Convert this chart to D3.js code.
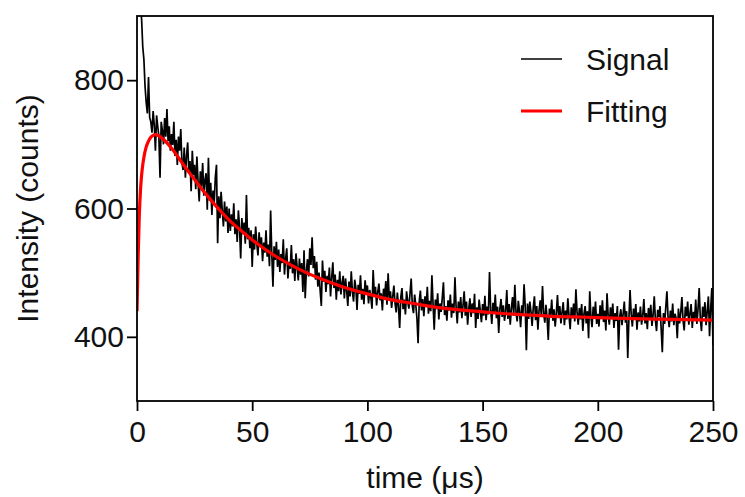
<!DOCTYPE html>
<html>
<head>
<meta charset="utf-8">
<script src="https://cdn.jsdelivr.net/npm/d3@7"></script>
<style>
  body { margin: 0; background: #fff; }
  svg { display: block; }
</style>
</head>
<body>
<div class="chart"></div>
<script>
// time step of the signal trace (µs), first sample at t = 0
const signalStep = 0.5;

const signalValues = [
  1010, 975, 940, 915, 895, 852, 832, 790, 765, 748, 805, 742, 735, 718, 752, 730, 690, 745, 728, 712,
  648, 735, 722, 700, 741, 712, 755, 705, 728, 690, 716, 699, 735, 682, 707, 668, 712, 690, 724, 671,
  660, 695, 648, 682, 703, 655, 674, 627, 690, 652, 668, 630, 681, 642, 611, 658, 634, 671, 620, 645,
  655, 598, 679, 612, 640, 590, 628, 607, 649, 668, 546, 619, 585, 626, 598, 572, 611, 580, 603, 562,
  600, 565, 591, 572, 608, 560, 583, 548, 597, 571, 522, 585, 560, 578, 545, 621, 552, 570, 538, 566,
  509, 560, 536, 572, 545, 527, 563, 540, 555, 518, 547, 531, 566, 525, 544, 510, 597, 530, 478, 541,
  520, 548, 509, 536, 501, 529, 515, 552, 497, 522, 538, 491, 517, 506, 543, 499, 521, 487, 530, 509,
  488, 522, 497, 515, 470, 535, 460, 503, 521, 494, 538, 512, 555, 507, 526, 489, 517, 478, 500, 472,
  448, 519, 486, 503, 470, 495, 482, 508, 463, 492, 516, 476, 497, 458, 489, 471, 502, 466, 484, 495,
  460, 491, 472, 448, 486, 463, 502, 470, 455, 489, 476, 442, 481, 467, 496, 458, 475, 451, 488, 469,
  480, 452, 473, 461, 444, 504, 466, 478, 449, 470, 483, 457, 468, 441, 475, 462, 487, 450, 499, 458,
  471, 445, 463, 480, 452, 438, 469, 447, 414, 462, 476, 443, 458, 435, 471, 455, 444, 468, 491, 448,
  437, 466, 450, 429, 390, 455, 472, 441, 459, 432, 463, 447, 478, 436, 456, 440, 496, 451, 411, 458,
  443, 468, 427, 452, 439, 461, 485, 434, 448, 425, 457, 441, 466, 430, 452, 437, 493, 446, 421, 455,
  438, 462, 429, 449, 471, 433, 455, 419, 444, 460, 431, 452, 437, 467, 414, 446, 428, 458, 440, 423,
  451, 433, 464, 426, 447, 435, 501, 442, 420, 453, 438, 466, 429, 447, 406, 444, 459, 431, 449, 425,
  440, 473, 428, 451, 419, 445, 462, 433, 481, 438, 424, 456, 440, 415, 449, 435, 482, 447, 379, 452,
  428, 455, 439, 417, 446, 463, 426, 448, 411, 441, 457, 432, 479, 437, 422, 450, 429, 395, 444, 434,
  458, 425, 443, 416, 437, 465, 430, 448, 421, 439, 454, 418, 441, 427, 460, 433, 412, 446, 429, 452,
  424, 474, 438, 419, 445, 427, 451, 409, 436, 448, 421, 440, 398, 471, 432, 415, 447, 428, 455, 420,
  436, 416, 449, 430, 457, 423, 441, 410, 468, 433, 419, 446, 428, 452, 414, 437, 425, 448, 380, 431,
  443, 418, 436, 455, 422, 440, 367, 428, 473, 435, 416, 444, 429, 451, 411, 438, 424, 447, 419, 433,
  459, 421, 437, 412, 445, 428, 450, 417, 434, 463, 426, 409, 442, 431, 448, 413, 376, 437, 420, 446,
  471, 430, 415, 441, 424, 452, 418, 436, 429, 398, 444, 421, 438, 462, 426, 410, 447, 432, 455, 419,
  436, 451, 414, 439, 425, 458, 420, 443, 476, 428, 409, 447, 431, 454, 418, 440, 463, 401, 445, 476,
  387
];

// fitted curve
const fitTimes = [0, 0.5, 1, 1.5, 2, 2.5, 3, 4, 5, 6, 7, 8, 9, 10, 12, 15, 20, 25, 30, 35, 40, 45, 50,
  60, 70, 80, 90, 100, 110, 120, 130, 140, 150, 160, 170, 180, 190, 200, 220, 250];
const fitValues = [440, 525, 590, 628, 652, 668, 680, 696, 705, 711, 714, 715, 714, 712, 706, 694, 669, 645, 622, 601, 582, 566, 551,
  526, 506, 490, 477, 467, 458, 452, 446, 442, 439, 436, 434, 432, 431, 430, 428, 426];

const xTicks = [0, 50, 100, 150, 200, 250];
const yTicks = [400, 600, 800];
const legendLabels = ['Signal', 'Fitting'];

const svgWidth = 745,
  svgHeight = 497,
  margin = { top: 16, right: 32, bottom: 96, left: 137 },
  signalColor = '#000',
  fitColor = '#ff0000',
  font = '"Liberation Sans", Arial, sans-serif';

const plotW = svgWidth - margin.left - margin.right,
  plotH = svgHeight - margin.top - margin.bottom;

const signal = signalValues.map((v, i) => ({ t: i * signalStep, v }));
const fit = fitTimes.map((t, i) => ({ t, v: fitValues[i] }));

const svg = d3.select('.chart')
  .append('svg')
  .attr('width', svgWidth)
  .attr('height', svgHeight);

const xScale = d3.scaleLinear()
  .domain([0, 250])
  .range([margin.left, margin.left + plotW]);

const yScale = d3.scaleLinear()
  .domain([300, 900])
  .range([margin.top + plotH, margin.top]);

svg.append('clipPath')
  .attr('id', 'plot-clip')
  .append('rect')
  .attr('x', margin.left)
  .attr('y', margin.top)
  .attr('width', plotW)
  .attr('height', plotH);

// data
const signalLine = d3.line()
  .x(d => xScale(d.t))
  .y(d => yScale(d.v));

svg.append('path')
  .attr('clip-path', 'url(#plot-clip)')
  .attr('d', signalLine(signal))
  .attr('stroke', signalColor)
  .attr('stroke-width', 1.7)
  .attr('fill', 'none');

const fitLine = d3.line()
  .curve(d3.curveMonotoneX)
  .x(d => xScale(d.t))
  .y(d => yScale(d.v));

svg.append('path')
  .attr('clip-path', 'url(#plot-clip)')
  .attr('d', fitLine(fit))
  .attr('stroke', fitColor)
  .attr('stroke-width', 3.2)
  .attr('fill', 'none');

// axes
const xAxis = d3.axisBottom(xScale)
  .tickValues(xTicks)
  .tickSize(10)
  .tickPadding(10)
  .tickSizeOuter(0);

const yAxis = d3.axisLeft(yScale)
  .tickValues(yTicks)
  .tickSize(10)
  .tickPadding(3)
  .tickSizeOuter(0);

const gx = svg.append('g')
  .attr('transform', `translate(0, ${margin.top + plotH})`)
  .call(xAxis);

const gy = svg.append('g')
  .attr('transform', `translate(${margin.left}, 0)`)
  .call(yAxis);

[gx, gy].forEach(g => {
  g.select('.domain').remove();
  g.selectAll('line').attr('stroke', '#000').attr('stroke-width', 1.8);
  g.selectAll('text')
    .attr('fill', '#111')
    .style('font', `30px ${font}`);
});

// frame
svg.append('rect')
  .attr('x', margin.left)
  .attr('y', margin.top)
  .attr('width', plotW)
  .attr('height', plotH)
  .attr('fill', 'none')
  .attr('stroke', '#000')
  .attr('stroke-width', 1.8);

// titles
svg.append('text')
  .attr('x', margin.left + plotW / 2)
  .attr('y', 488)
  .attr('text-anchor', 'middle')
  .attr('fill', '#111')
  .style('font', `30px ${font}`)
  .text('time (μs)');

svg.append('text')
  .attr('transform', `translate(38, ${margin.top + plotH / 2}) rotate(-90)`)
  .attr('text-anchor', 'middle')
  .attr('fill', '#111')
  .style('font', `30px ${font}`)
  .text('Intensity (counts)');

// legend
const legend = svg.append('g');

legend.selectAll('line')
  .data(legendLabels)
  .enter()
  .append('line')
  .attr('x1', 521)
  .attr('x2', 562)
  .attr('y1', (d, i) => 59 + i * 52)
  .attr('y2', (d, i) => 59 + i * 52)
  .attr('stroke', (d, i) => i ? fitColor : signalColor)
  .attr('stroke-width', (d, i) => i ? 3.2 : 1.3);

legend.selectAll('text')
  .data(legendLabels)
  .enter()
  .append('text')
  .attr('x', 586)
  .attr('y', (d, i) => 70 + i * 52)
  .attr('fill', '#111')
  .style('font', `30px ${font}`)
  .text(d => d);
</script>
</body>
</html>
